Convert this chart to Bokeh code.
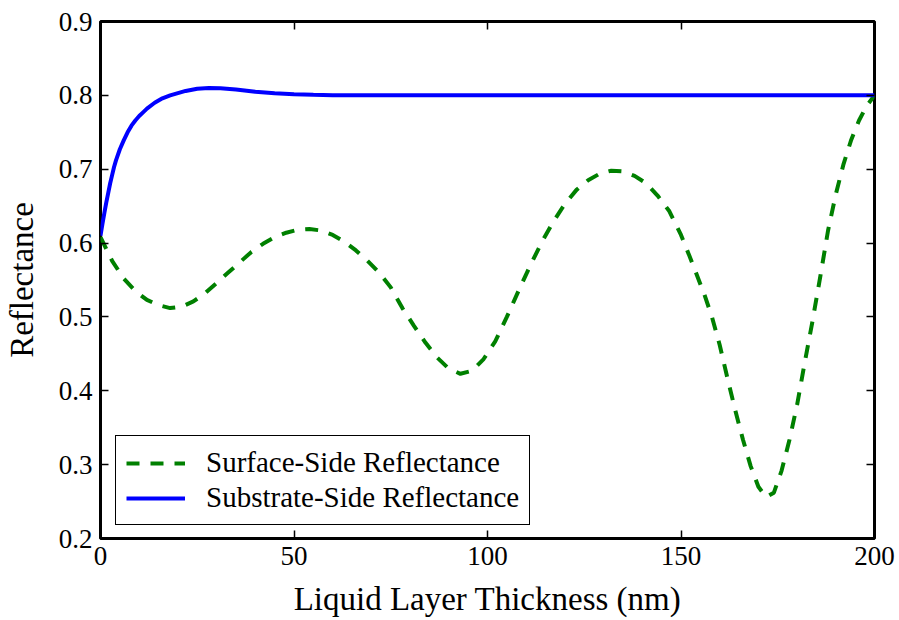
from bokeh.plotting import figure
from bokeh.models import Range1d, FixedTicker, LinearAxis, Legend, LegendItem, CustomJSTickFormatter
from bokeh.embed import file_html
from bokeh.resources import INLINE

# ---- data ----
surface_x = [0, 3, 6, 9, 12, 15, 18, 21, 24, 27, 30, 33, 36, 39, 42, 45, 48, 51, 54, 57,
             60, 63, 66, 69, 72, 75, 78, 81, 84, 87, 90, 93, 96, 99, 102, 105, 108, 111, 114, 117,
             120, 123, 126, 129, 132, 135, 138, 141, 144, 147, 150, 152, 154, 156, 158, 160, 162, 164, 166, 168,
             170, 172, 174, 176, 178, 180, 182, 184, 186, 188, 190, 192, 194, 196, 198, 200]
surface_y = [0.608, 0.576, 0.552, 0.535, 0.523, 0.516, 0.512, 0.514, 0.521, 0.532, 0.546, 0.560, 0.574, 0.588, 0.599, 0.608, 0.614, 0.618, 0.619, 0.617,
             0.611, 0.602, 0.590, 0.576, 0.560, 0.540, 0.512, 0.488, 0.465, 0.445, 0.430, 0.423, 0.427, 0.443, 0.467, 0.500, 0.535, 0.569, 0.601, 0.629,
             0.653, 0.672, 0.685, 0.694, 0.698, 0.697, 0.691, 0.681, 0.664, 0.643, 0.611, 0.585, 0.558, 0.531, 0.500, 0.462, 0.417, 0.374, 0.334, 0.298,
             0.270, 0.256, 0.262, 0.292, 0.333, 0.381, 0.439, 0.495, 0.555, 0.617, 0.666, 0.707, 0.740, 0.766, 0.786, 0.800]

substrate_x = [0, 0.5, 1, 1.5, 2, 2.5, 3, 3.5, 4, 5, 6, 7, 8, 9, 10, 11, 12, 14, 16, 18, 20, 22, 25, 28, 31, 35,
               40, 45, 50, 55, 60, 70, 80, 100, 120, 140, 160, 180, 200]
substrate_y = [0.610, 0.626, 0.641, 0.655, 0.668, 0.681, 0.692, 0.703, 0.712, 0.727, 0.739, 0.750, 0.759, 0.766, 0.772, 0.777, 0.782, 0.790, 0.796, 0.800, 0.803, 0.806, 0.809, 0.810, 0.8095, 0.808,
               0.805, 0.803, 0.8015, 0.8007, 0.8003, 0.800, 0.800, 0.800, 0.800, 0.800, 0.800, 0.800, 0.800]

x_ticks = [0, 50, 100, 150, 200]
y_ticks = [0.2, 0.3, 0.4, 0.5, 0.6, 0.7, 0.8, 0.9]
x_label = "Liquid Layer Thickness (nm)"
y_label = "Reflectance"
series_names = ["Surface-Side Reflectance", "Substrate-Side Reflectance"]

FONT = "Liberation Serif"

p = figure(width=899, height=620, output_backend="svg", toolbar_location=None,
           x_range=Range1d(0, 200), y_range=Range1d(0.2, 0.9),
           min_border_left=98, min_border_right=25, min_border_top=21, min_border_bottom=82)
p.background_fill_color = "white"
p.border_fill_color = "white"
p.outline_line_color = "black"
p.outline_line_width = 3
p.outline_line_alpha = 1
p.grid.visible = False

r_surf = p.line(surface_x, surface_y, line_color="#008000", line_width=4, line_dash="13 11")
r_sub = p.line(substrate_x, substrate_y, line_color="#0000ff", line_width=4)

xa = p.xaxis[0]
ya = p.yaxis[0]
xa.ticker = FixedTicker(ticks=x_ticks)
ya.ticker = FixedTicker(ticks=y_ticks)
for ax in (xa, ya):
    ax.axis_line_color = None
    ax.major_tick_in = 8
    ax.major_tick_out = 0
    ax.major_tick_line_color = "black"
    ax.major_tick_line_width = 1.5
    ax.minor_tick_line_color = None
    ax.major_label_text_font = FONT
    ax.major_label_text_font_size = "27px"
    ax.major_label_text_color = "black"
    ax.major_label_standoff = 8
    ax.axis_label_text_font = FONT
    ax.axis_label_text_font_size = "33px"
    ax.axis_label_text_font_style = "normal"
    ax.axis_label_text_color = "black"
xa.axis_label = x_label
ya.axis_label = y_label
xa.axis_label_standoff = 13
ya.axis_label_standoff = 16

top = LinearAxis(ticker=FixedTicker(ticks=x_ticks))
right = LinearAxis(ticker=FixedTicker(ticks=y_ticks))
for ax in (top, right):
    ax.axis_line_color = None
    ax.major_tick_in = 8
    ax.major_tick_out = 0
    ax.major_tick_line_color = "black"
    ax.major_tick_line_width = 1.5
    ax.minor_tick_line_color = None
    ax.major_label_standoff = 0
    ax.major_label_text_font_size = "1px"
    ax.formatter = CustomJSTickFormatter(code="return ''")
p.add_layout(top, "above")
p.add_layout(right, "right")

legend = Legend(items=[LegendItem(label=series_names[0], renderers=[r_surf]),
                       LegendItem(label=series_names[1], renderers=[r_sub])],
                location=(15, 13), margin=0, padding=10, spacing=2,
                label_height=32, glyph_height=32, glyph_width=59, label_standoff=21,
                label_text_font=FONT, label_text_font_size="29px", label_text_color="black",
                border_line_color="black", border_line_width=1.5, border_line_alpha=1,
                background_fill_color="white", background_fill_alpha=1)
p.add_layout(legend, "center")

open("out.html", "w").write(file_html(p, INLINE))
